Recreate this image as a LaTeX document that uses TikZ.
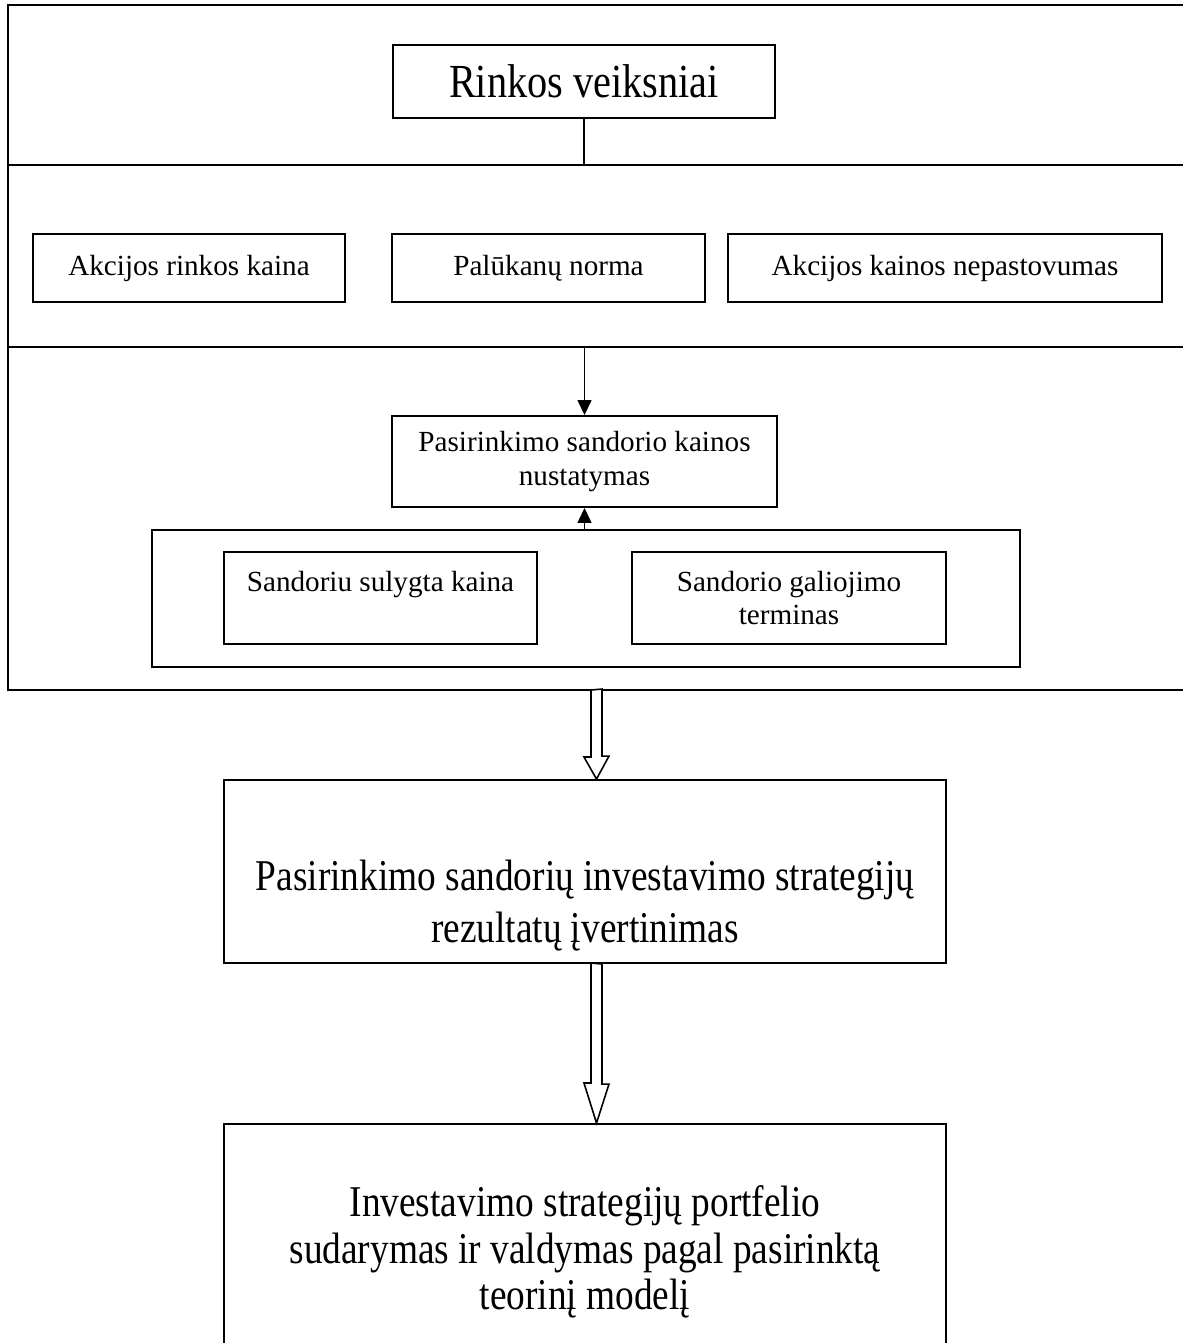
\documentclass[tikz,border=0pt]{standalone}
\usepackage{fontspec}
\setmainfont{Liberation Serif}
\newfontfamily\narrowfont[FakeStretch=0.85]{Liberation Serif}
\usetikzlibrary{positioning, arrows.meta}

\begin{document}
\begin{tikzpicture}[x=0.02cm, y=-0.02cm,
  box/.style={draw, rectangle, line width=1.1pt, inner sep=0pt, align=center,
    font=\fontsize{16.6}{19}\selectfont},
  bigtext/.style={align=center, font=\narrowfont\fontsize{25}{29.5}\selectfont},
  bigbox/.style={box, bigtext},
  frame/.style={line width=0.9pt},
  hollow/.style={draw, line width=0.9pt, fill=white},
  tip/.style={line width=0.8pt, -{Triangle[length=0.3cm, width=0.28cm]}}]
\useasboundingbox (0,0) rectangle (1183,1343);

\draw[frame] (8,5) rectangle (1192,690) ;
\coordinate (sep1) at (8,165) ;
\coordinate (sep2) at (8,347) ;
\draw[frame] (sep1) -- ++(1184,0) ;
\draw[frame] (sep2) -- ++(1184,0) ;

\node[bigbox, font=\narrowfont\fontsize{27}{30}\selectfont, minimum width=7.64cm, minimum height=1.46cm] at (584,81.5) (factors) {Rinkos veiksniai} ;

\node[box, minimum width=6.24cm, minimum height=1.36cm] at (189,268) (stockprice) {Akcijos rinkos kaina} ;
\node[box, minimum width=6.26cm, minimum height=1.36cm] at (548.5,268) (rate) {Palūkanų norma} ;
\node[box, minimum width=8.68cm, minimum height=1.36cm] at (945,268) (volatility) {Akcijos kainos nepastovumas} ;

\node[box, minimum width=7.7cm, minimum height=1.82cm] at (584.5,461.5) (pricing) {Pasirinkimo sandorio kainos\\nustatymas} ;

\node[box, minimum width=17.36cm, minimum height=2.74cm] at (586,598.5) (contract) {} ;
\node[box, minimum width=6.26cm, minimum height=1.84cm] at (380.5,598) (strike) {Sandoriu sulygta kaina\\\mbox{}} ;
\node[box, minimum width=6.28cm, minimum height=1.84cm] at (789,598) (expiry) {Sandorio galiojimo\\terminas} ;

\node[box, minimum width=14.44cm, minimum height=3.66cm, label={[bigtext, yshift=-0.68cm]center:Pasirinkimo sandorių investavimo strategijų\\rezultatų įvertinimas}] at (585,871.5) (results) {} ;
\node[bigbox, font=\narrowfont\fontsize{25}{26.5}\selectfont, minimum width=14.44cm, minimum height=5.12cm] at (585,1252) (portfolio) {Investavimo strategijų portfelio\\sudarymas ir valdymas pagal pasirinktą\\teorinį modelį} ;

\draw[frame] (factors.south) -- (factors.south |- sep1) ;
\draw[tip] (pricing.north |- sep2) -- (pricing.north) ;
\draw[tip] (pricing.south |- contract.north) -- (pricing.south) ;

\coordinate (drop1) at (596.5,690) ;
\coordinate (drop2) at (596.5,963) ;
\draw[hollow] (drop1) ++(-5.5,0) -- ++(0,67) -- ++(-7,0) -- (drop1 |- results.north) -- ++(12.5,-23) -- ++(-7,0) -- ++(0,-67) -- cycle ;
\draw[hollow] (drop2) ++(-5.5,0) -- ++(0,120) -- ++(-7,0) -- (drop2 |- portfolio.north) -- ++(12.5,-39) -- ++(-7,0) -- ++(0,-120) -- cycle ;
\end{tikzpicture}
\end{document}
